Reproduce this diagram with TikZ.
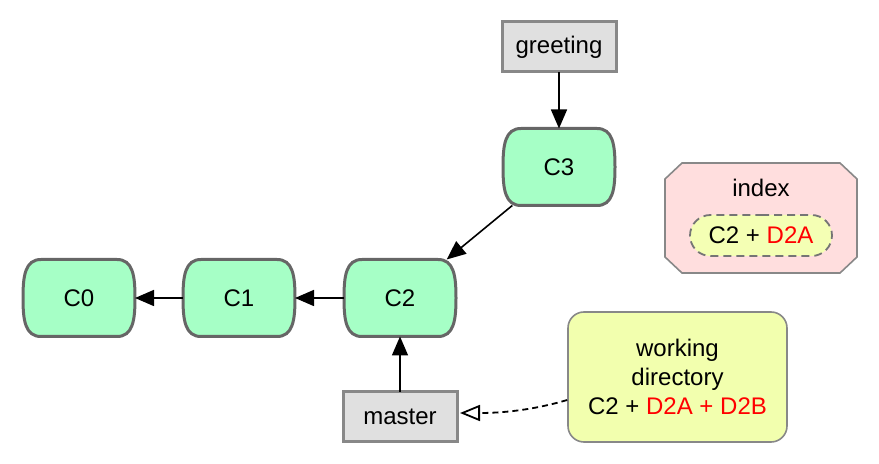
\documentclass[tikz,border=0pt]{standalone}
\usepackage{fontspec}
\setmainfont{Liberation Sans}
\usetikzlibrary{arrows.meta,shapes.misc,backgrounds,calc}
\definecolor{commitfill}{HTML}{A6FFC6}
\definecolor{commitline}{HTML}{666666}
\definecolor{reffill}{HTML}{E0E0E0}
\definecolor{refline}{HTML}{888888}
\definecolor{idxfill}{HTML}{FFDEDE}
\definecolor{innerfill}{HTML}{F4FFB4}
\definecolor{wdfill}{HTML}{F2FFAE}
\definecolor{myred}{HTML}{FF0000}
\tikzset{
  lbl/.style={font=\fontsize{12}{14.5}\selectfont},
  commit/.style={lbl, minimum width=56pt, minimum height=38.5pt, inner sep=0pt, outer sep=0pt},
  commitdraw/.style={fill=commitfill, draw=commitline, line width=1.5pt},
  refbox/.style={lbl, draw=refline, fill=reffill, line width=1.5pt, minimum width=57pt, minimum height=25pt, inner sep=0pt, outer sep=0pt},
  link/.style={line width=0.8pt, -{Triangle[length=9.5pt,width=8pt]}},
}
\newcommand\commitshape[1]{%
  \begin{scope}[on background layer]
  \filldraw[commitdraw]
    ([xshift=9pt]#1.north west) -- ([xshift=-9pt]#1.north east)
    .. controls ([xshift=-1pt]#1.north east) and ([yshift=11pt]#1.east) .. (#1.east)
    .. controls ([yshift=-11pt]#1.east) and ([xshift=-1pt]#1.south east) .. ([xshift=-9pt]#1.south east)
    -- ([xshift=9pt]#1.south west)
    .. controls ([xshift=1pt]#1.south west) and ([yshift=-11pt]#1.west) .. (#1.west)
    .. controls ([yshift=11pt]#1.west) and ([xshift=1pt]#1.north west) .. cycle;
  \end{scope}}
\begin{document}
\begin{tikzpicture}[x=0.5pt,y=-0.5pt]
\useasboundingbox (0,0) rectangle (879,464);
% commits
\node[commit] (c0) at (79,298) {C0};
\node[commit] (c1) at (239,298) {C1};
\node[commit] (c2) at (400,298) {C2};
\node[commit] (c3) at (559,167) {C3};
\commitshape{c0}\commitshape{c1}\commitshape{c2}\commitshape{c3}
% refs
\node[refbox] (greeting) at (559,47) {greeting};
\node[refbox] (master) at (400,417) {master};
% index (octagon)
\node[minimum width=96pt, minimum height=55pt, inner sep=0pt, outer sep=0pt] (index) at (761,218) {};
\begin{scope}[on background layer]
\filldraw[draw=refline, fill=idxfill, line width=0.8pt]
  ([xshift=8.5pt]index.north west) -- ([xshift=-8.5pt]index.north east)
  -- ([yshift=-8pt]index.north east) -- ([yshift=8pt]index.south east)
  -- ([xshift=-8.5pt]index.south east) -- ([xshift=8.5pt]index.south west)
  -- ([yshift=8pt]index.south west) -- ([yshift=-8pt]index.north west) -- cycle;
\end{scope}
\node[lbl] (idxlabel) at (761,188) {index};
\node[lbl, rounded rectangle, draw=commitline!90, dashed, dash pattern=on 4pt off 2.5pt, line width=0.9pt,
  fill=innerfill, minimum width=71pt, minimum height=20.5pt, inner sep=0pt] (idx) at (761,235.5)
  {C2 + \textcolor{myred}{D2A}};
% working directory
\node[lbl, align=center, draw=refline, fill=wdfill, line width=0.8pt, rounded corners=8pt,
  minimum width=109.5pt, minimum height=65pt] (wd) at (677.5,377)
  {working\\directory\\C2 + \textcolor{myred}{D2A + D2B}};
% connectors
\draw[link] (c1) -- (c0);
\draw[link] (c2) -- (c1);
\draw[link] (c3) -- (c2);
\draw[link] (greeting) -- (greeting |- c3.north);
\draw[link] (master) -- (c2);
\coordinate (wdstart) at ($(wd.west)+(0,23)$);
\coordinate (mastertip) at ($(master.east)+(3,-4)$);
\draw[line width=0.9pt, dashed, dash pattern=on 3pt off 2pt, -{Triangle[open,length=10pt,width=8pt]}]
  (wdstart) .. controls (540,408) and (510,413) .. (mastertip);
\end{tikzpicture}
\end{document}
